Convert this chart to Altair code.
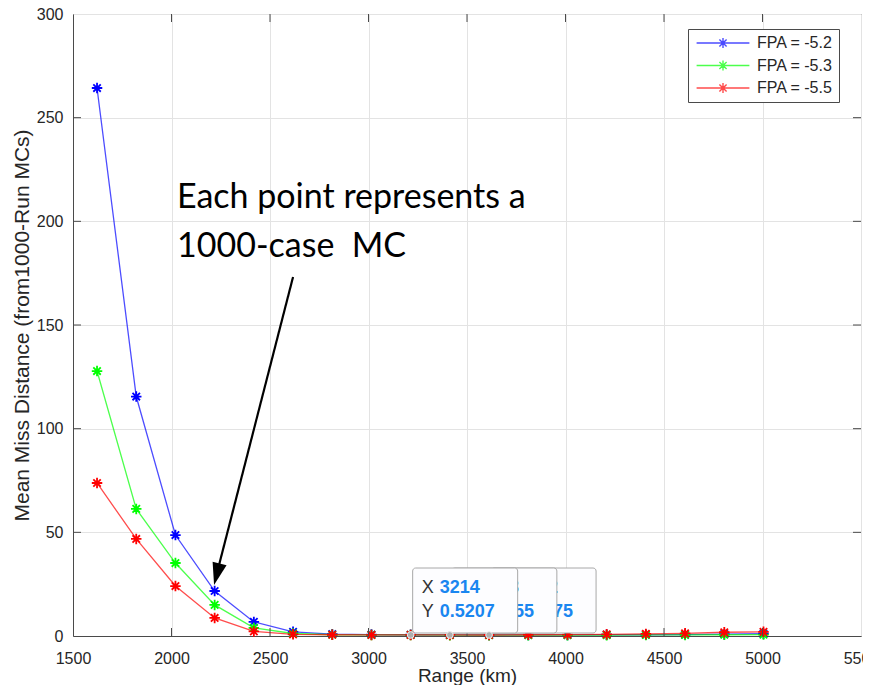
import altair as alt
import pandas as pd

# ---------------- data ----------------
range_km = [1622, 1821, 2020, 2219, 2418, 2617, 2816, 3015, 3214, 3413,
            3612, 3811, 4010, 4209, 4408, 4607, 4806, 5005]
fpa_52 = [264.3, 115.5, 48.7, 21.7, 6.8, 2.0, 0.9, 0.7, 0.6, 0.55,
          0.5, 0.5, 0.5, 0.6, 0.6, 0.7, 0.9, 1.1]
fpa_53 = [127.8, 61.3, 35.2, 15.0, 3.9, 1.2, 0.6, 0.5, 0.5, 0.4,
          0.4, 0.4, 0.4, 0.4, 0.5, 0.5, 0.6, 0.7]
fpa_55 = [73.8, 46.8, 24.1, 8.7, 2.2, 0.8, 0.6, 0.5, 0.5207, 0.4955,
          0.4875, 0.6, 0.7, 0.8, 1.0, 1.3, 1.8, 2.0]
series_names = ["FPA = -5.2", "FPA = -5.3", "FPA = -5.5"]
series_colors = ["#0000ff", "#00ff00", "#ff0000"]

x_ticks = [1500, 2000, 2500, 3000, 3500, 4000, 4500, 5000, 5500]
y_ticks = [0, 50, 100, 150, 200, 250, 300]

# data tips
tip_x = [3214, 3413, 3612]
tip_y = [0.5207, 0.4955, 0.4875]
tip_xlabel = ["3214", "3413", "3612"]
tip_ylabel = ["0.5207", "0.4955", "0.4875"]

# annotation
note_lines = ["Each point represents a", "1000-case\u00a0 MC"]
note_x = [2028, 2028]
note_y = [206.4, 182.8]
arrow_start = [2617, 173.2]
arrow_base = [2238, 33.0]
arrow_tip = [2216, 24.6]

# ---------------- frames ----------------
rows = []
for name, vals in zip(series_names, [fpa_52, fpa_53, fpa_55]):
    for xv, yv in zip(range_km, vals):
        rows.append({"range": xv, "miss": yv, "series": name})
df = pd.DataFrame(rows)

tips = pd.DataFrame({"range": tip_x, "miss": tip_y, "xl": tip_xlabel,
                     "yl": tip_ylabel, "idx": [0, 1, 2]})
notes = pd.DataFrame({"range": note_x, "miss": note_y, "txt": note_lines})
shaft = pd.DataFrame({"range": [arrow_start[0]], "miss": [arrow_start[1]],
                      "range2": [arrow_base[0]], "miss2": [arrow_base[1]]})
head = pd.DataFrame({"range": [arrow_tip[0]], "miss": [arrow_tip[1]]})
xt = pd.DataFrame({"range": x_ticks[1:-1]})
yt = pd.DataFrame({"miss": y_ticks[1:-1]})

W, H = 788, 622
AX = "#4a4a4a"
TXT = "#262626"
FONT = "Liberation Sans"

xscale = alt.Scale(domain=[1500, 5500], nice=False, zero=False)
yscale = alt.Scale(domain=[0, 300], nice=False, zero=True)
cscale = alt.Scale(domain=series_names, range=series_colors)

x_enc = alt.X("range:Q", scale=xscale,
              axis=alt.Axis(values=x_ticks, title="Range (km)", format="d",
                            labelFontSize=16, labelColor=TXT, labelFont=FONT,
                            labelFlush=False, labelOverlap=False,
                            titleFontSize=19, titleFontWeight="normal",
                            titleColor=TXT, titleFont=FONT,
                            titleBaseline="alphabetic", titleY=45,
                            ticks=False, tickSize=0, labelPadding=14,
                            grid=True, gridColor="#e3e3e3", gridWidth=1,
                            domainColor=AX, domainWidth=1))
y_enc = alt.Y("miss:Q", scale=yscale,
              axis=alt.Axis(values=y_ticks,
                            title="Mean Miss Distance (from1000-Run MCs)",
                            labelFontSize=16, labelColor=TXT, labelFont=FONT,
                            labelFlush=False, labelOverlap=False,
                            titleFontSize=21, titleFontWeight="normal",
                            titleColor=TXT, titleFont=FONT, titlePadding=4,
                            ticks=False, tickSize=0, labelPadding=10,
                            grid=True, gridColor="#e3e3e3", gridWidth=1,
                            domainColor=AX, domainWidth=1))

STAR = ("M0,-1L0,1M-1,0L1,0M-0.71,-0.71L0.71,0.71M-0.71,0.71L0.71,-0.71")
LEG = ("M-4.4,0L4.4,0M0,-0.85L0,0.85M-0.85,0L0.85,0"
       "M-0.6,-0.6L0.6,0.6M-0.6,0.6L0.6,-0.6")

legend = alt.Legend(title=None, orient="none", legendX=615, legendY=15,
                    symbolType=LEG, symbolSize=144, symbolStrokeWidth=1.4,
                    symbolOffset=21, labelOffset=26, padding=6,
                    rowPadding=6.5, labelFontSize=16, labelFont=FONT,
                    labelColor=TXT, strokeColor=AX, fillColor="white",
                    cornerRadius=0, labelExpr="datum.label + '    '")

color_enc = alt.Color("series:N", scale=cscale, legend=legend)

lines = alt.Chart(df).mark_line(strokeWidth=1.3, opacity=0.7).encode(
    x=x_enc, y=y_enc, color=color_enc, order="range:Q")
points = alt.Chart(df).mark_point(shape=STAR, filled=False, size=110,
                                  strokeWidth=1.8, opacity=1).encode(
    x="range:Q", y="miss:Q", color=alt.Color("series:N", scale=cscale))

# inner ticks (MATLAB style)
tick_b = alt.Chart(xt).mark_rule(color=AX, strokeWidth=1).encode(
    x="range:Q", y=alt.value(H), y2=alt.value(H - 8))
tick_t = alt.Chart(xt).mark_rule(color=AX, strokeWidth=1).encode(
    x="range:Q", y=alt.value(0), y2=alt.value(8))
tick_l = alt.Chart(yt).mark_rule(color=AX, strokeWidth=1).encode(
    y="miss:Q", x=alt.value(0), x2=alt.value(8))
tick_r = alt.Chart(yt).mark_rule(color=AX, strokeWidth=1).encode(
    y="miss:Q", x=alt.value(W), x2=alt.value(W - 8))

# annotation text + arrow
note = alt.Chart(notes).mark_text(align="left", baseline="alphabetic",
                                  font="Lato", fontSize=34,
                                  color="black").encode(
    x="range:Q", y="miss:Q", text="txt:N")
arrow = alt.Chart(shaft).mark_rule(color="black", strokeWidth=2.2).encode(
    x="range:Q", y="miss:Q", x2="range2:Q", y2="miss2:Q")
HEAD = "M0,0L-0.6,-1.85L0.6,-1.85Z"
arrowhead = alt.Chart(head).mark_point(shape=HEAD, filled=True, size=576,
                                       angle=14.4, color="black",
                                       opacity=1, strokeWidth=0).encode(
    x="range:Q", y="miss:Q")

# data tips (drawn back to front)
tip_layers = []
for i in [2, 1, 0]:
    src = alt.Chart(tips).transform_filter(alt.datum.idx == i)
    box = src.mark_rect(fill="#fdfdff", stroke="#a8a8a8", strokeWidth=1,
                        cornerRadius=3, xOffset=2, x2Offset=107).encode(
        x="range:Q", x2="range:Q", y=alt.value(554), y2=alt.value(619))
    lx = src.mark_text(align="left", baseline="middle", dx=11, font=FONT,
                       fontSize=18, color="#333333", text="X").encode(
        x="range:Q", y=alt.value(574))
    ly = src.mark_text(align="left", baseline="middle", dx=11, font=FONT,
                       fontSize=18, color="#333333", text="Y").encode(
        x="range:Q", y=alt.value(598))
    vx = src.mark_text(align="left", baseline="middle", dx=29, font=FONT,
                       fontSize=18, fontWeight="bold",
                       color="#1a86f0").encode(
        x="range:Q", y=alt.value(574), text="xl:N")
    vy = src.mark_text(align="left", baseline="middle", dx=29, font=FONT,
                       fontSize=18, fontWeight="bold",
                       color="#1a86f0").encode(
        x="range:Q", y=alt.value(598), text="yl:N")
    tip_layers += [box, lx, ly, vx, vy]

tip_dots = alt.Chart(tips).mark_point(shape="circle", filled=True, size=45,
                                      fill="#aeaeae", stroke="#eeeeee",
                                      strokeWidth=1, opacity=1).encode(
    x="range:Q", y="miss:Q")

chart = alt.layer(
    lines, points, tick_b, tick_t, tick_l, tick_r, note, arrow, arrowhead,
    *tip_layers, tip_dots
).properties(
    width=W, height=H,
    autosize=alt.AutoSizeParams(type="none"),
    padding={"left": 65, "top": 6, "right": 2, "bottom": 49},
    background="white",
).configure_view(stroke=AX, strokeWidth=1)

chart.save("out.html", embed_options={"renderer": "svg", "actions": False})
